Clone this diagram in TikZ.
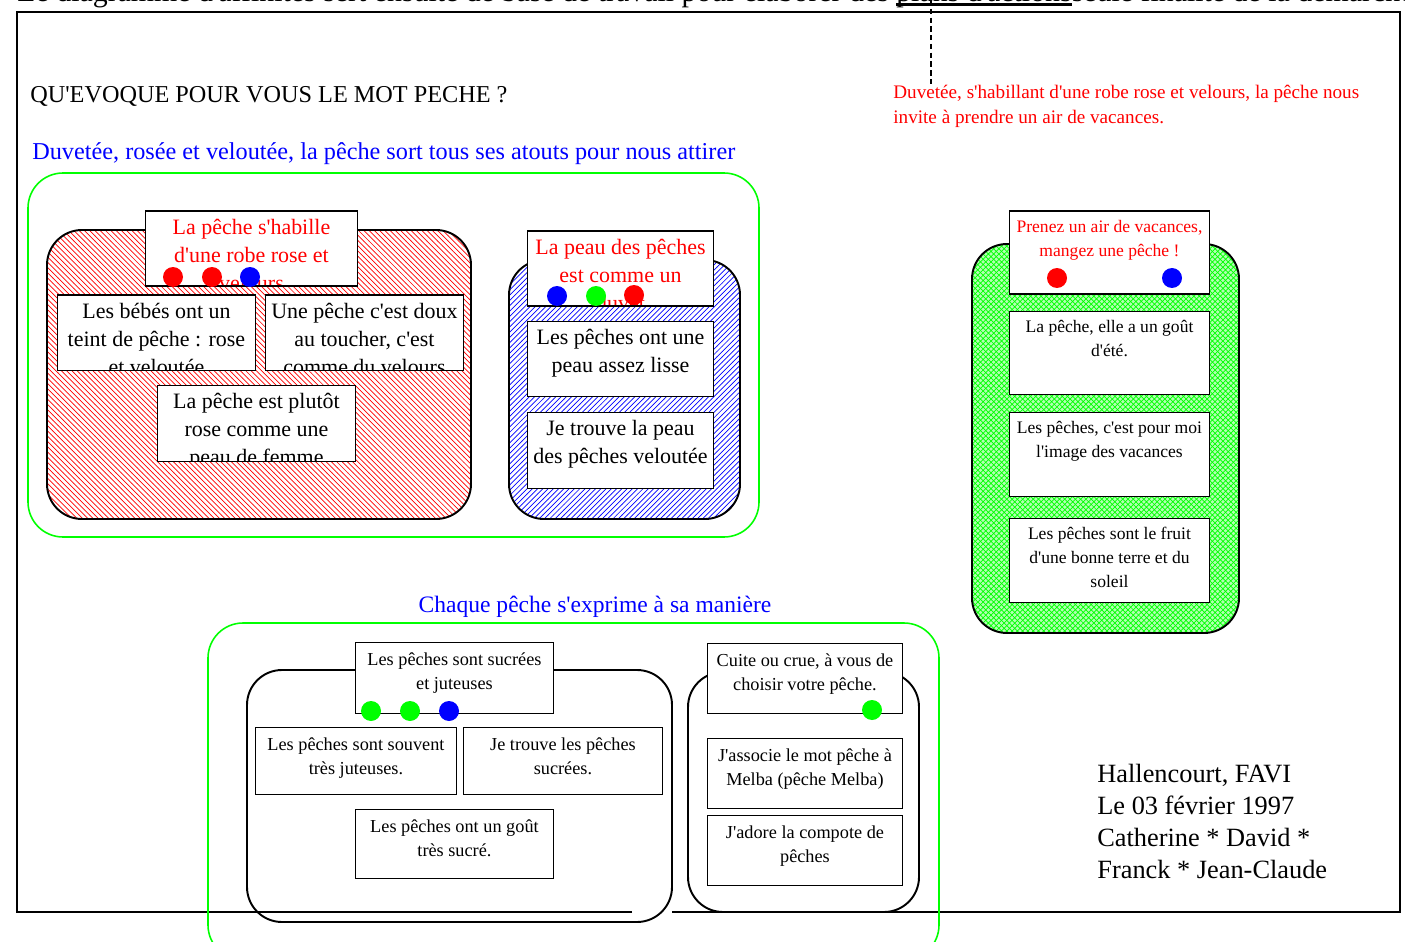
\documentclass[tikz,border=0pt]{standalone}
\usepackage{fontspec}
\setmainfont{Liberation Serif}[Ligatures=TeXOff]
\usetikzlibrary{patterns,fit}

\newcommand{\souligne}[1]{\setbox0\hbox{#1}\rlap{\rule[-2.5pt]{\wd0}{1.7pt}}\box0}

\tikzset{
  carte/.style 2 args={draw, line width=1.1pt, fill=white, inner sep=0pt, anchor=north west,
    path picture={\node[txt, text=#1, anchor=north, align=center, draw=none, fill=none,
      inner sep=4pt, minimum width=0pt, minimum height=0pt] at (path picture bounding box.north) {#2};}},
  taille/.style 2 args={minimum width=#1*0.02cm, minimum height=#2*0.02cm},
  txt/.style={font=\fontsize{12.5}{15.9}\selectfont, yshift=0.3pt},
  groupe/.style={draw, line width=1.1pt, inner sep=0pt, rounded corners=0.7cm},
  cadre/.style={draw=green, line width=0.9pt, inner sep=0pt, rounded corners=0.7cm},
  point/.style={circle, inner sep=0pt, minimum size=0.4cm},
}

\begin{document}
\begin{tikzpicture}[x=0.02cm, y=-0.02cm]
\useasboundingbox (0,0) rectangle (1405,942);
\clip (0,0) rectangle (1405,942);

% consigne coupee en haut
\node[anchor=base west, inner sep=0pt, font=\fontsize{17}{20}\selectfont] (consigne) at (17,1.5) {Le diagramme d'affinités sert ensuite de base de travail pour élaborer des \souligne{plans d'actions} seule finalité de la démarche};

% cadre general
\draw[line width=1.1pt] (632,912) -- (17,912) -- (17,12) -- (1400,12) -- (1400,912) -- (672,912);

\node[anchor=base west, inner sep=0pt, font=\fontsize{13.8}{16}\selectfont] (question) at (30,103) {QU'EVOQUE POUR VOUS LE MOT PECHE ?};
\node[anchor=base west, inner sep=0pt, text=blue, font=\fontsize{13.8}{16}\selectfont] (titre1) at (32,160) {Duvetée, rosée et veloutée, la pêche sort tous ses atouts pour nous attirer};

\node[anchor=north west, inner sep=0pt, text=red, align=left, font=\fontsize{10.9}{14}\selectfont] (note) at (893,85) {Duvetée, s'habillant d'une robe rose et velours, la pêche nous\\invite à prendre un air de vacances.};
\coordinate (ancre) at (931,0);
\draw[densely dashed, line width=1pt] (ancre) -- (ancre |- note.north);

% premier ensemble
\node[cadre, fit={(28,173) (759,537)}] (cadre1) {};
\node[groupe, fit={(47,230) (471,519)}, pattern=north west lines, pattern color=red] (rose) {};
\node[carte={red}{La pêche s'habille\\d'une robe rose et\\velours}, taille={212}{75}] (habille) at (144.5,210.5) {};
\node[point, fill=red] (h1) at (173,277) {};
\node[point, fill=red] (h2) at (212,277) {};
\node[point, fill=blue] (h3) at (250,277) {};
\node[carte={black}{Les bébés ont un\\teint de pêche : rose\\et veloutée}, taille={198}{75}] (bebes) at (56.5,294.5) {};
\node[carte={black}{Une pêche c'est doux\\au toucher, c'est\\comme du velours}, taille={198}{75}] (doux) at (264.5,294.5) {};
\node[carte={black}{La pêche est plutôt\\rose comme une\\peau de femme}, taille={198}{76}] (plutot) at (156.5,384.5) {};

\node[groupe, fit={(509,260) (740,519)}, pattern=north east lines, pattern color=blue] (peau) {};
\node[carte={red}{La peau des pêches\\est comme un\\duvet}, taille={186}{75}] (duvet) at (526.5,230.5) {};
\node[point, fill=blue] (d1) at (557,296) {};
\node[point, fill=green] (d2) at (596,296) {};
\node[point, fill=red] (d3) at (634,295) {};
\node[carte={black}{Les pêches ont une\\peau assez lisse}, taille={186}{75}] (lisse) at (526.5,320.5) {};
\node[carte={black}{Je trouve la peau\\des pêches veloutée}, taille={186}{76}] (veloutee) at (526.5,411.5) {};

% ensemble vacances
\begin{scope}[txt/.style={font=\fontsize{10}{13.6}\selectfont, yshift=-0.6pt}]
\node[groupe, fit={(972,244) (1239,633)}, preaction={fill=green!30}, pattern=crosshatch, pattern color=green] (vert) {};
\node[carte={red}{Prenez un air de vacances,\\mangez une pêche !}, taille={200}{83}] (vacances) at (1008.5,210.5) {};
\node[point, fill=red] (v1) at (1057,278) {};
\node[point, fill=blue] (v2) at (1172,278) {};
\node[carte={black}{La pêche, elle a un goût\\d'été.}, taille={200}{83}] (ete) at (1008.5,310.5) {};
\node[carte={black}{Les pêches, c'est pour moi\\l'image des vacances}, taille={200}{84}] (image) at (1008.5,411.5) {};
\node[carte={black}{Les pêches sont le fruit\\d'une bonne terre et du\\soleil}, taille={200}{84}] (fruit) at (1008.5,517.5) {};
\end{scope}

% ensemble du bas
\node[anchor=base, inner sep=0pt, text=blue, font=\fontsize{13.4}{16}\selectfont] (titre2) at (595,612) {Chaque pêche s'exprime à sa manière};
\node[cadre, fit={(208,623) (939,960)}] (cadre2) {};
\begin{scope}[txt/.style={font=\fontsize{10.4}{13.6}\selectfont, yshift=-1.2pt}]
\node[groupe, fit={(247,670) (672,922)}] (sucre) {};
\node[carte={black}{Les pêches sont sucrées\\et juteuses}, taille={198}{71}] (juteuses) at (354.5,641.5) {};
\node[point, fill=green] (j1) at (371,711) {};
\node[point, fill=green] (j2) at (410,711) {};
\node[point, fill=blue] (j3) at (449,711) {};
\node[carte={black}{Les pêches sont souvent\\très juteuses.}, taille={201}{67}] (souvent) at (254.5,726.5) {};
\node[carte={black}{Je trouve les pêches\\sucrées.}, taille={199}{67}] (sucrees) at (462.5,726.5) {};
\node[carte={black}{Les pêches ont un goût\\très sucré.}, taille={198}{69}] (gout) at (354.5,808.5) {};

\node[groupe, fit={(688,672) (919,912)}] (cuisine) {};
\node[carte={black}{Cuite ou crue, à vous de\\choisir votre pêche.}, taille={195}{70}] (cuite) at (706.5,642.5) {};
\node[point, fill=green] (c1) at (872,710) {};
\node[carte={black}{J'associe le mot pêche à\\Melba (pêche Melba)}, taille={195}{70}] (melba) at (706.5,737.5) {};
\node[carte={black}{J'adore la compote de\\pêches}, taille={195}{70}] (compote) at (706.5,814.5) {};
\end{scope}

\node[anchor=north west, inner sep=0pt, align=left, font=\fontsize{15}{18.1}\selectfont] (signature) at (1097,764) {Hallencourt, FAVI\\Le 03 février 1997\\Catherine * David *\\Franck * Jean-Claude};
\end{tikzpicture}
\end{document}
